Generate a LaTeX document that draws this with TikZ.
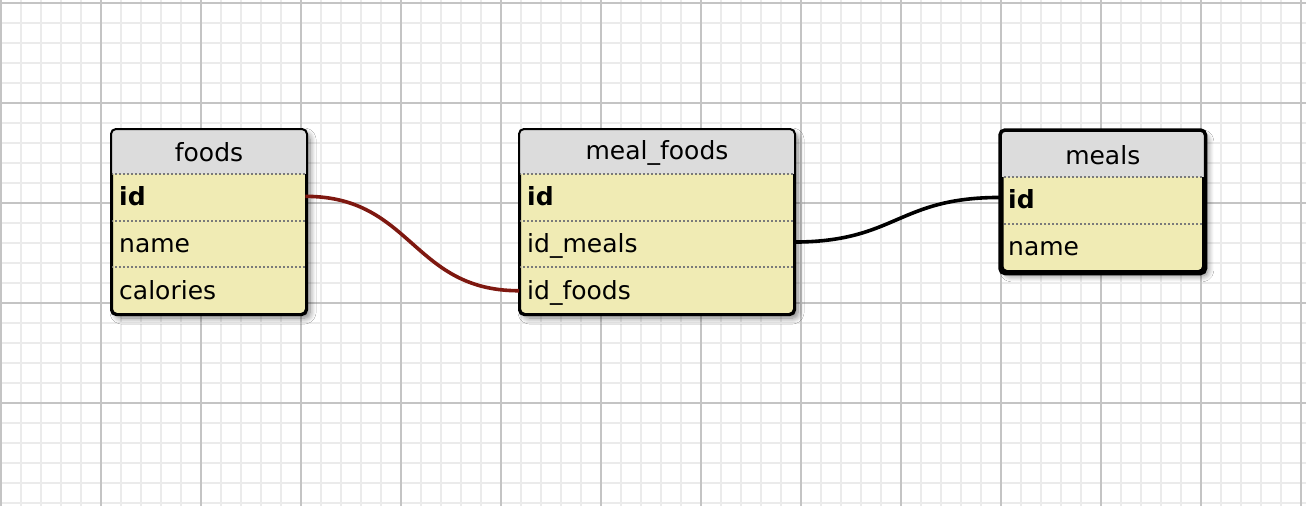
\documentclass[tikz,border=0pt]{standalone}
\usepackage{fontspec}
\setmainfont{DejaVu Sans}
\usetikzlibrary{shadows.blur}
\definecolor{minorgrid}{HTML}{EBEBEB}
\definecolor{majorgrid}{HTML}{C4C4C4}
\definecolor{headfill}{HTML}{DCDCDC}
\definecolor{bodyfill}{HTML}{F0EBB4}
\definecolor{sepgray}{HTML}{7A7A7A}
\definecolor{fklink}{HTML}{7E1810}
\tikzset{
  tablebox/.style={draw=black, line width=2pt, rounded corners=5pt, fill=bodyfill, anchor=north west, inner sep=0pt,
     blur shadow={shadow xshift=4pt, shadow yshift=-4pt, shadow blur steps=8, shadow blur radius=6pt, shadow opacity=50}},
  tableline/.style={draw=black, line width=2pt, rounded corners=5pt},
  title/.style={inner sep=0pt, font=\fontsize{25}{30}\selectfont},
  field/.style={anchor=north west, inner xsep=8pt, inner ysep=0pt, align=left, text height=20pt, text depth=3pt,
     font=\fontsize{25}{30}\selectfont},
  sep/.style={draw=sepgray, line width=2pt, dash pattern=on 2.2pt off 1.8pt},
  link/.style={line width=3.6pt, draw=black},
}
\begin{document}
\begin{tikzpicture}[x=1pt,y=-1pt]
\useasboundingbox (0,0) rectangle (1306,506);
\fill[white] (0,0) rectangle (1306,506);
% grid
\foreach \x in {1,21,...,1306} \draw[minorgrid, line width=2pt] (\x,0) -- (\x,506);
\foreach \y in {3,23,...,506} \draw[minorgrid, line width=2pt] (0,\y) -- (1306,\y);
\foreach \x in {1,101,...,1306} \draw[majorgrid, line width=2pt] (\x,0) -- (\x,506);
\foreach \y in {3,103,...,500} \draw[majorgrid, line width=2pt] (0,\y) -- (1306,\y);

% ---------- foods ----------
\node[tablebox, minimum width=194pt, minimum height=184pt] (foods) at (111,129) {};
\begin{scope}
\clip[rounded corners=5pt] (foods.north west) rectangle (foods.south east);
\fill[headfill] (foods.north west) rectangle ([yshift=-45pt]foods.north east);
\end{scope}
\node[title] (foods-title) at ([yshift=-23.5pt]foods.north) {foods};
\node[field, text width=178pt, minimum height=46.3pt] (foods-id) at ([yshift=-45pt]foods.north west) {\bfseries id};
\node[field, text width=178pt, minimum height=46.3pt] (foods-name) at (foods-id.south west) {name};
\node[field, text width=178pt, minimum height=46.3pt] (foods-cal) at (foods-name.south west) {calories};
\draw[sep] (foods-id.north west) -- (foods-id.north east);
\draw[sep] (foods-name.north west) -- (foods-name.north east);
\draw[sep] (foods-cal.north west) -- (foods-cal.north east);
\draw[tableline] (foods.north west) rectangle (foods.south east);

% ---------- meal_foods ----------
\node[tablebox, minimum width=274pt, minimum height=184pt] (mf) at (519,129) {};
\begin{scope}
\clip[rounded corners=5pt] (mf.north west) rectangle (mf.south east);
\fill[headfill] (mf.north west) rectangle ([yshift=-45pt]mf.north east);
\end{scope}
\node[title] (mf-title) at ([yshift=-23.5pt]mf.north) {meal\_foods};
\node[field, text width=258pt, minimum height=46.3pt] (mf-id) at ([yshift=-45pt]mf.north west) {\bfseries id};
\node[field, text width=258pt, minimum height=46.3pt] (mf-idmeals) at (mf-id.south west) {id\_meals};
\node[field, text width=258pt, minimum height=46.3pt] (mf-idfoods) at (mf-idmeals.south west) {id\_foods};
\draw[sep] (mf-id.north west) -- (mf-id.north east);
\draw[sep] (mf-idmeals.north west) -- (mf-idmeals.north east);
\draw[sep] (mf-idfoods.north west) -- (mf-idfoods.north east);
\draw[tableline] (mf.north west) rectangle (mf.south east);

% ---------- meals ----------
\node[tablebox, line width=3.5pt, minimum width=202pt, minimum height=140pt] (meals) at (1000,130) {};
\begin{scope}
\clip[rounded corners=5pt] (meals.north west) rectangle (meals.south east);
\fill[headfill] (meals.north west) rectangle ([yshift=-47pt]meals.north east);
\end{scope}
\node[title] (meals-title) at ([yshift=-25pt]meals.north) {meals};
\node[field, text width=186pt, minimum height=46.5pt] (meals-id) at ([yshift=-47pt]meals.north west) {\bfseries id};
\node[field, text width=186pt, minimum height=46.5pt] (meals-name) at (meals-id.south west) {name};
\draw[sep] (meals-id.north west) -- (meals-id.north east);
\draw[sep] (meals-name.north west) -- (meals-name.north east);
\draw[tableline, line width=3.5pt] (meals.north west) rectangle (meals.south east);

% ---------- links ----------
\draw[link, draw=fklink] ([yshift=1pt]foods-id.east) .. controls +(107,0) and +(-107,0) .. (mf-idfoods.west);
\draw[link] ([yshift=2pt]mf-idmeals.east) .. controls +(103,0) and +(-103,0) .. ([yshift=3pt]meals-id.west);
\end{tikzpicture}
\end{document}
